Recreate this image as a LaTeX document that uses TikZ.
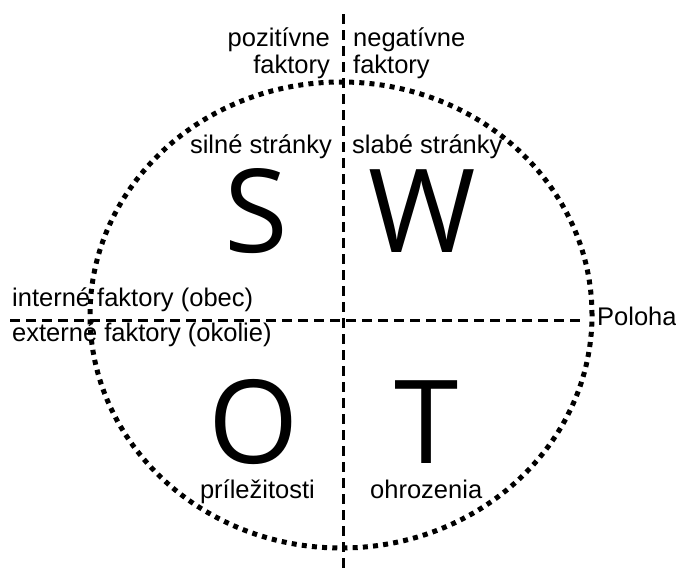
\documentclass[tikz,border=0pt]{standalone}
\usepackage{fontspec}
\setmainfont{Liberation Sans}
\newfontfamily\bigfont{Open Sans}
\begin{document}
\begin{tikzpicture}[x=1pt,y=-1pt,
  lbl/.style={inner sep=0pt,font=\fontsize{25.5}{28}\selectfont},
  bigl/.style={inner sep=0pt,text depth=0pt,font=\bigfont\fontsize{116}{120}\selectfont},
  axis/.style={line width=3pt,dash pattern=on 9.5pt off 6.5pt},
  dotring/.style={line width=5pt,dash pattern=on 5pt off 5.2pt}]
\useasboundingbox (0,0) rectangle (676,573);
\fill[white] (0,0) rectangle (676,573);
% ring
\draw[dotring] (341,315) ellipse [x radius=251pt, y radius=233pt];
% axes
\coordinate (vt) at (343,14);
\coordinate (vb) at (343,573);
\coordinate (hl) at (10,320);
\coordinate (hr) at (582,320);
\draw[axis] (vt) -- (vb);
\draw[axis] (hl) -- (hr);
% top labels
\node[lbl,anchor=base east] (poz) at (330,46) {pozitívne};
\node[lbl,anchor=base east] (pozf) at (330,73) {faktory};
\node[lbl,anchor=base west] (neg) at (353,46) {negatívne};
\node[lbl,anchor=base west] (negf) at (353,73) {faktory};
% quadrant labels
\node[lbl,anchor=base east] (sil) at (332,153) {silné stránky};
\node[lbl,anchor=base west] (sla) at (352,153) {slabé stránky};
\node[lbl,anchor=base east] (pri) at (315,498) {príležitosti};
\node[lbl,anchor=base west] (ohr) at (370,498) {ohrozenia};
% side labels
\node[lbl,anchor=base west] (int) at (12,306) {interné faktory (obec)};
\node[lbl,anchor=base west] (ext) at (12,341) {externé faktory (okolie)};
\node[lbl,anchor=base west] (pol) at (597,325) {Poloha};
% big letters
\node[bigl,anchor=base] (S) at (256,252) {S};
\node[bigl,anchor=base] (W) at (422,252) {W};
\node[bigl,anchor=base] (O) at (254,463) {O};
\node[bigl,anchor=base] (T) at (427,463) {T};
\end{tikzpicture}
\end{document}
